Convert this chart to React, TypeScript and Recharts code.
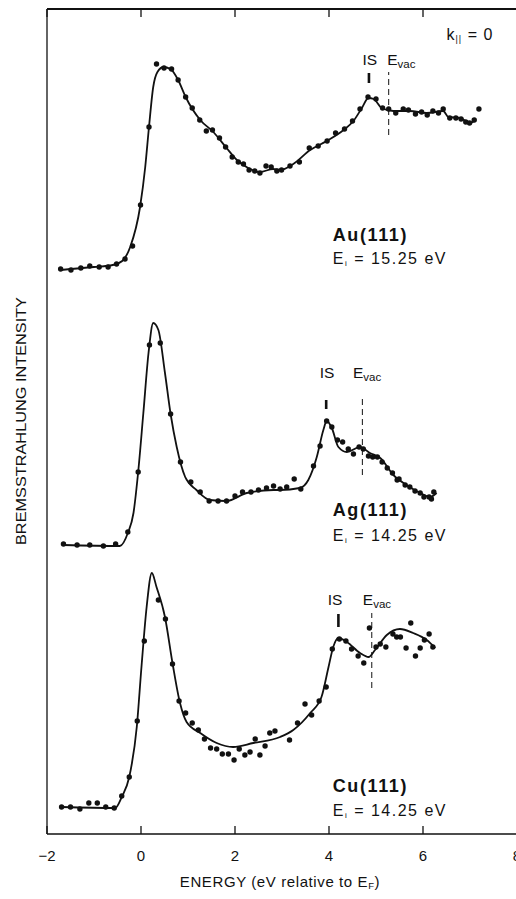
import React from "react";
import {
  ComposedChart,
  Line,
  Scatter,
  XAxis,
  YAxis,
  ReferenceLine,
  ReferenceDot,
} from "recharts";

// energy in eV relative to E_F, intensity in arbitrary units (curves are offset)
const auDotE = [
  -1.71, -1.49, -1.28, -1.09, -0.89, -0.7, -0.52, -0.34, -0.18, -0.01, 0.17, 0.33, 0.49, 0.65,
  0.79, 0.95, 1.09, 1.25, 1.39, 1.52, 1.67, 1.8, 1.94, 2.07, 2.18, 2.3, 2.42, 2.53, 2.66, 2.77,
  2.89, 2.99, 3.17, 3.37, 3.58, 3.77, 3.96, 4.14, 4.33, 4.5, 4.66, 4.83, 5.0, 5.14, 5.27, 5.42,
  5.58, 5.69, 5.84, 5.97, 6.09, 6.21, 6.33, 6.43, 6.57, 6.7, 6.81, 6.91, 6.99, 7.09, 7.19,
];
const auDotI = [
  565, 564, 566, 568, 567, 567, 570, 575, 588, 629, 707, 770, 766, 765, 754, 737, 726, 714, 703,
  704, 696, 687, 677, 672, 670, 664, 663, 661, 668, 667, 663, 664, 668, 672, 686, 688, 693, 701,
  705, 713, 725, 737, 735, 726, 725, 721, 725, 724, 720, 722, 719, 723, 721, 725, 716, 716, 715,
  712, 711, 714, 725,
];
const auFitE = [
  -1.71, -1.0, -0.6, -0.4, -0.23, -0.02, 0.09, 0.17, 0.26, 0.35, 0.48, 0.65, 0.79, 0.95, 1.26,
  1.54, 1.82, 2.04, 2.28, 2.53, 2.81, 2.96, 3.24, 3.6, 3.95, 4.31, 4.52, 4.7, 4.84, 4.95, 5.12,
  5.37, 5.72, 6.08, 6.43, 6.54, 6.79, 7.0, 7.09,
];
const auFitI = [
  564, 567, 569, 573, 587, 627, 667, 707, 747, 762, 767, 764, 754, 737, 714, 702, 686, 674, 666,
  662, 665, 664, 670, 684, 693, 704, 713, 726, 736, 735, 726, 723, 723, 721, 723, 717, 716, 711,
  713,
];

const agDotE = [
  -1.65, -1.36, -1.09, -0.8, -0.54, -0.28, -0.06, 0.18, 0.41, 0.63, 0.84, 1.06, 1.26, 1.45, 1.64,
  1.82, 2.0, 2.16, 2.34, 2.5, 2.67, 2.82, 2.96, 3.1, 3.26, 3.4, 3.67, 3.81, 3.95, 4.06, 4.18,
  4.29, 4.41, 4.52, 4.64, 4.73, 4.84, 4.93, 5.03, 5.13, 5.24, 5.35, 5.45, 5.49, 5.62, 5.72, 5.83,
  5.94, 6.02, 6.13, 6.18, 6.23,
];
const agDotI = [
  290, 289, 289, 288, 290, 302, 362, 489, 491, 420, 372, 352, 342, 333, 333, 333, 338, 342, 342,
  344, 346, 348, 345, 347, 355, 345, 368, 388, 413, 407, 394, 392, 385, 380, 387, 385, 378, 377,
  377, 372, 366, 361, 354, 355, 349, 347, 343, 341, 337, 337, 335, 342,
];
const agFitE = [
  -1.65, -0.45, -0.28, -0.16, -0.06, 0.05, 0.16, 0.26, 0.37, 0.51, 0.63, 0.76, 0.94, 1.18, 1.47,
  1.82, 2.25, 2.82, 2.96, 3.38, 3.56, 3.74, 3.88, 3.95, 4.06, 4.2, 4.38, 4.66, 4.87, 5.09, 5.37,
  5.65, 5.94, 6.15, 6.29,
];
const agFitI = [
  289, 288, 301, 321, 362, 421, 481, 511, 504, 461, 420, 387, 357, 344, 334, 333, 341, 344, 344,
  346, 354, 377, 404, 413, 406, 387, 382, 387, 381, 376, 359, 349, 341, 337, 341,
];

const cuDotE = [
  -1.69, -1.5, -1.3, -1.11, -0.93, -0.75, -0.57, -0.41, -0.25, -0.08, 0.07, 0.37, 0.52, 0.67,
  0.81, 0.95, 1.09, 1.22, 1.35, 1.48, 1.61, 1.73, 1.86, 1.98, 2.09, 2.21, 2.32, 2.43, 2.53, 2.64,
  2.74, 2.85, 3.16, 3.33, 3.49, 3.63, 3.79, 3.94, 4.07, 4.22, 4.36, 4.48, 4.62, 4.74, 4.86, 5.0,
  5.09, 5.21, 5.36, 5.44, 5.52, 5.64, 5.74, 5.84, 5.94, 6.03, 6.13, 6.21,
];
const cuDotI = [
  27, 27, 25, 31, 31, 27, 26, 38, 57, 113, 193, 234, 215, 170, 133, 121, 111, 104, 95, 86, 85, 80,
  80, 74, 85, 79, 82, 95, 79, 88, 101, 103, 94, 111, 130, 119, 133, 147, 185, 195, 193, 185, 178,
  171, 206, 187, 190, 187, 200, 197, 197, 186, 211, 178, 186, 194, 200, 187,
];
const cuFitE = [
  -1.69, -0.55, -0.41, -0.25, -0.09, 0.01, 0.12, 0.23, 0.33, 0.51, 0.67, 0.83, 0.97, 1.26, 1.61,
  1.96, 2.39, 2.96, 3.24, 3.6, 3.84, 3.99, 4.09, 4.2, 4.38, 4.66, 4.84, 4.98, 5.23, 5.51, 5.79,
  6.08, 6.26,
];
const cuFitI = [
  27, 26, 37, 57, 107, 167, 227, 261, 247, 217, 171, 131, 112, 101, 91, 87, 91, 97, 104, 121, 137,
  167, 187, 196, 192, 181, 177, 184, 199, 205, 201, 194, 186,
];

const xTicks = [-2, 0, 2, 4, 6, 8];
const xDomain = [-2, 8];
const yTop = 825; // top of the intensity range

// image-state (IS) and vacuum-level markers for each crystal
const crystals = ["Au(111)", "Ag(111)", "Cu(111)"];
const incidentEnergies = ["15.25", "14.25", "14.25"];
const isEnergy = [4.85, 3.94, 4.2];
const isMarkRange = [[751, 761], [425, 434], [207, 220]];
const vacEnergy = [5.27, 4.71, 4.91];
const vacLineRange = [[699, 762], [359, 437], [146, 221]];

const pts = (xs: number[], ys: number[]) => xs.map((x, i) => ({ x, y: ys[i] }));

const series = [
  { dots: pts(auDotE, auDotI), fit: pts(auFitE, auFitI) },
  { dots: pts(agDotE, agDotI), fit: pts(agFitE, agFitI) },
  { dots: pts(cuDotE, cuDotI), fit: pts(cuFitE, cuFitI) },
];

// where the text notes sit, in data units
const notes = [
  { isX: 4.87, vacX: 5.24, tagY: 775, nameX: 4.08, nameY: 599, eiY: 576 },
  { isX: 3.96, vacX: 4.51, tagY: 462, nameX: 4.08, nameY: 324, eiY: 299 },
  { isX: 4.13, vacX: 4.72, tagY: 235, nameX: 4.08, nameY: 48, eiY: 24 },
];

// chart box
const W = 522;
const H = 899;
const M = { top: 9, right: 5, left: 47, bottom: 65 };
const plotW = W - M.left - M.right;
const toPx = (e: number) => M.left + ((e - xDomain[0]) / (xDomain[1] - xDomain[0])) * plotW;

const FONT = '"Liberation Sans", Arial, Helvetica, sans-serif';
const INK = "#111";

const dot = (p: any) => <circle cx={p.cx} cy={p.cy} r={2.7} fill={INK} />;

const txt = (render: (x: number, y: number) => React.ReactElement) => (p: any) =>
  render(p.cx, p.cy);

export default function App() {
  return (
    <div
      style={{
        position: "absolute",
        left: 0,
        top: 0,
        width: 516,
        height: 899,
        overflow: "hidden",
        background: "#fff",
      }}
    >
      <ComposedChart
        width={W}
        height={H}
        margin={{ top: M.top, right: M.right, left: 0, bottom: 0 }}
      >
        <XAxis
          type="number"
          dataKey="x"
          domain={xDomain}
          allowDataOverflow
          ticks={xTicks}
          height={M.bottom}
          tickSize={-8}
          tickMargin={24}
          tickFormatter={(v: number) => (v < 0 ? `\u2212${Math.abs(v)}` : `${v}`)}
          tick={{ fontSize: 15, fill: INK, fontFamily: FONT }}
          axisLine={{ stroke: INK, strokeWidth: 1.3 }}
          tickLine={{ stroke: INK, strokeWidth: 1.3 }}
        />
        <YAxis
          type="number"
          domain={[0, yTop]}
          allowDataOverflow
          width={M.left}
          tick={false}
          tickLine={false}
          axisLine={{ stroke: INK, strokeWidth: 1.3 }}
        />

        {series.map((s, i) => (
          <Line
            key={`fit-${i}`}
            data={s.fit}
            dataKey="y"
            type="monotone"
            stroke={INK}
            strokeWidth={1.8}
            dot={false}
            activeDot={false}
            isAnimationActive={false}
          />
        ))}
        {series.map((s, i) => (
          <Scatter
            key={`dots-${i}`}
            data={s.dots}
            dataKey="y"
            fill={INK}
            shape={dot}
            isAnimationActive={false}
          />
        ))}

        {isEnergy.map((e, i) => (
          <ReferenceLine
            key={`is-${i}`}
            segment={[
              { x: e, y: isMarkRange[i][0] },
              { x: e, y: isMarkRange[i][1] },
            ]}
            stroke={INK}
            strokeWidth={2.6}
          />
        ))}
        {vacEnergy.map((e, i) => (
          <ReferenceLine
            key={`vac-${i}`}
            segment={[
              { x: e, y: vacLineRange[i][0] },
              { x: e, y: vacLineRange[i][1] },
            ]}
            stroke={INK}
            strokeWidth={1}
            strokeDasharray="6 4"
          />
        ))}

        {notes.map((n, i) => (
          <ReferenceDot
            key={`istag-${i}`}
            x={n.isX}
            y={n.tagY}
            r={0}
            ifOverflow="visible"
            shape={txt((x, y) => (
              <text
                x={x}
                y={y}
                textAnchor="middle"
                dominantBaseline="central"
                fontFamily={FONT}
                fontSize={15.5}
                fill={INK}
              >
                IS
              </text>
            ))}
          />
        ))}
        {notes.map((n, i) => (
          <ReferenceDot
            key={`vactag-${i}`}
            x={n.vacX}
            y={n.tagY}
            r={0}
            ifOverflow="visible"
            shape={txt((x, y) => (
              <text x={x} y={y} dominantBaseline="central" fontFamily={FONT} fontSize={15.5} fill={INK}>
                E
                <tspan fontSize={11.5} dy={5}>
                  vac
                </tspan>
              </text>
            ))}
          />
        ))}
        {notes.map((n, i) => (
          <ReferenceDot
            key={`name-${i}`}
            x={n.nameX}
            y={n.nameY}
            r={0}
            ifOverflow="visible"
            shape={txt((x, y) => (
              <text
                x={x}
                y={y}
                dominantBaseline="central"
                fontFamily={FONT}
                fontSize={18}
                fontWeight="bold"
                letterSpacing={1.6}
                fill={INK}
              >
                {crystals[i]}
              </text>
            ))}
          />
        ))}
        {notes.map((n, i) => (
          <ReferenceDot
            key={`ei-${i}`}
            x={n.nameX}
            y={n.eiY}
            r={0}
            ifOverflow="visible"
            shape={txt((x, y) => (
              <text
                x={x}
                y={y}
                dominantBaseline="central"
                fontFamily={FONT}
                fontSize={16}
                letterSpacing={1.5}
                fill={INK}
              >
                E
                <tspan fontSize={8} dy={5}>
                  i
                </tspan>
                <tspan dy={-5}>{` = ${incidentEnergies[i]} eV`}</tspan>
              </text>
            ))}
          />
        ))}
        <ReferenceDot
          x={6.5}
          y={800}
          r={0}
          ifOverflow="visible"
          shape={txt((x, y) => (
            <text
              x={x}
              y={y}
              dominantBaseline="central"
              fontFamily={FONT}
              fontSize={16}
              letterSpacing={1}
              fill={INK}
            >
              k
              <tspan fontSize={9} dy={5}>
                ||
              </tspan>
              <tspan dy={-5}> = 0</tspan>
            </text>
          ))}
        />
      </ComposedChart>

      {/* top edge of the frame */}
      <div
        style={{
          position: "absolute",
          left: M.left,
          top: M.top - 1,
          width: W - M.left,
          height: 0,
          borderTop: `2px solid ${INK}`,
        }}
      />

      <svg
        width={516}
        height={899}
        style={{ position: "absolute", left: 0, top: 0, pointerEvents: "none" }}
      >
        {xTicks.map((t) => (
          <line
            key={t}
            x1={toPx(t)}
            y1={M.top}
            x2={toPx(t)}
            y2={M.top + 8}
            stroke={INK}
            strokeWidth={1.3}
          />
        ))}
        <text
          transform="translate(20 421) rotate(-90)"
          textAnchor="middle"
          dominantBaseline="central"
          fontFamily={FONT}
          fontSize={15}
          textLength={248}
          lengthAdjust="spacingAndGlyphs"
          fill={INK}
        >
          BREMSSTRAHLUNG INTENSITY
        </text>
        <text
          x={280}
          y={881}
          textAnchor="middle"
          dominantBaseline="central"
          fontFamily={FONT}
          fontSize={15}
          letterSpacing={0.6}
          fill={INK}
        >
          ENERGY (eV relative to E
          <tspan fontSize={9.5} dy={4}>
            F
          </tspan>
          <tspan dy={-4}>)</tspan>
        </text>
      </svg>
    </div>
  );
}
